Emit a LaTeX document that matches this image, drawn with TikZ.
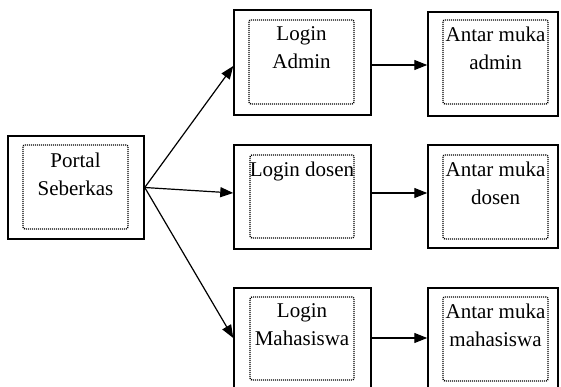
\documentclass[tikz,border=0pt]{standalone}
\usepackage{fontspec}
\setmainfont{Liberation Serif}
\usetikzlibrary{arrows.meta}
\begin{document}
\begin{tikzpicture}[x=1pt,y=-1pt,
  outer/.style={draw,line width=1.5pt,minimum width=137pt,minimum height=105pt,inner sep=0pt},
  innerbox/.style={draw,dash pattern=on 1pt off 1pt,line width=1.4pt,rounded corners=2pt,minimum width=105pt,minimum height=84pt,inner sep=0pt},
  lbl/.style={align=center,font=\fontsize{21}{28}\selectfont,anchor=north,inner sep=0pt},
  arr/.style={line width=1.2pt,-{Triangle[length=13pt,width=10pt]}}]
\clip (0,0) rectangle (561,387);
\fill[white] (0,0) rectangle (561,387);
% Portal
\node[outer,minimum width=136pt,minimum height=103pt] (p) at (76,187.5) {};
\node[innerbox] (pi) at (75.5,187) {};
\node[lbl] (pt) at ([yshift=-8pt]pi.north) {Portal\\Seberkas};
% Login Admin
\node[outer] (a) at (302.5,62.5) {};
\node[innerbox] (ai) at (301.5,62) {};
\node[lbl] (at) at ([yshift=-7pt]ai.north) {Login\\Admin};
% Antar muka admin
\node[outer,minimum width=130pt,minimum height=104pt] (am) at (493,64) {};
\node[innerbox] (ami) at (495.5,62) {};
\node[lbl] (amt) at ([yshift=-7pt]ami.north) {Antar muka\\admin};
% Login dosen
\node[outer,minimum height=104pt] (d) at (302.5,197) {};
\node[innerbox,minimum width=104pt,minimum height=83pt] (di) at (302,196.5) {};
\node[lbl] (dt) at ([yshift=-7pt]di.north) {Login dosen};
% Antar muka dosen
\node[outer,minimum width=130pt,minimum height=103pt] (dm) at (493,196.5) {};
\node[innerbox] (dmi) at (495.5,197) {};
\node[lbl] (dmt) at ([yshift=-7pt]dmi.north) {Antar muka\\dosen};
% Login Mahasiswa
\node[outer] (m) at (302.5,340.5) {};
\node[innerbox,minimum width=104pt,minimum height=83pt] (mi) at (302,338.5) {};
\node[lbl] (mt) at ([yshift=-7pt]mi.north) {Login\\Mahasiswa};
% Antar muka mahasiswa
\node[outer,minimum width=130pt] (mm) at (493,340.5) {};
\node[innerbox] (mmi) at (495.5,339) {};
\node[lbl] (mmt) at ([yshift=-7pt]mmi.north) {Antar muka\\mahasiswa};
% arrows
\draw[arr] (p.east) -- (a.west |- 0,66);
\draw[arr] (p.east) -- (d.west |- 0,193);
\draw[arr] (p.east) -- (m.west |- 0,338);
\draw[arr] (a.east |- 0,65) -- (am.west |- 0,65);
\draw[arr] (d.east |- 0,193) -- (dm.west |- 0,193);
\draw[arr] (m.east |- 0,338) -- (mm.west |- 0,338);
\end{tikzpicture}
\end{document}
